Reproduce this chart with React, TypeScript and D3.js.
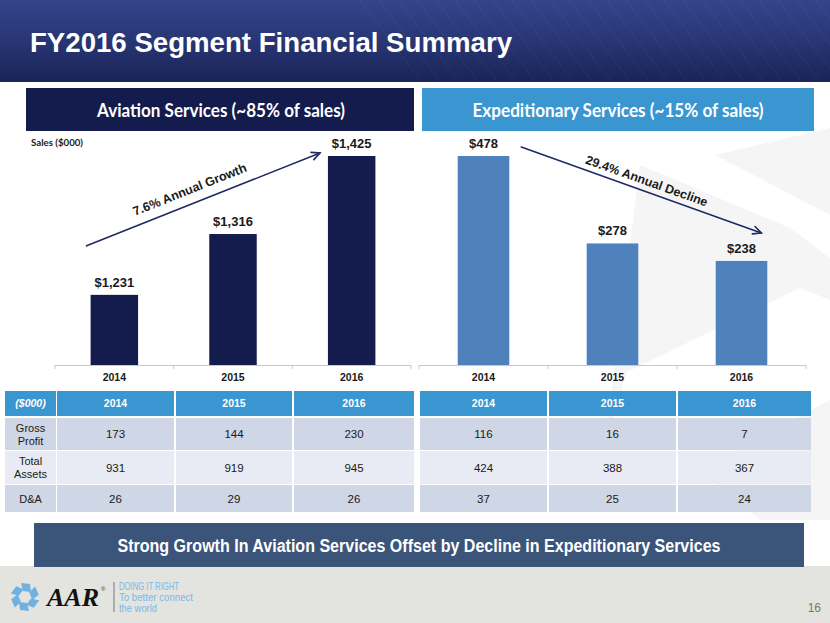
import React from "react";
import * as d3 from "d3";

const years = ["2014", "2015", "2016"];
const aviationSales = [1231, 1316, 1425];
const expeditionarySales = [478, 278, 238];
const aviationAxisMin = 1133;
const metricNames = [["Gross", "Profit"], ["Total", "Assets"], ["D&A"]];
const aviationGrossProfit = [173, 144, 230];
const aviationTotalAssets = [931, 919, 945];
const aviationDA = [26, 29, 26];
const expeditionaryGrossProfit = [116, 16, 7];
const expeditionaryTotalAssets = [424, 388, 367];
const expeditionaryDA = [37, 25, 24];
const aviationGrowthLabel = "7.6% Annual Growth";
const expeditionaryDeclineLabel = "29.4% Annual Decline";

const W = 830;
const H = 623;
const baseY = 365;
const topY = 156;

const NAVY = "#141b4d";
const LIGHTBLUE = "#3a96d1";
const BARBLUE = "#4f81bd";
const ARROW = "#1f2a63";
const NARROW = "'Liberation Sans Narrow', 'Arial Narrow', 'Liberation Sans', Arial, sans-serif";
const ARIAL = "'Liberation Sans', Arial, sans-serif";
const CAL = "Lato, 'Open Sans', sans-serif";

function Arrow({ x1, y1, x2, y2 }: { x1: number; y1: number; x2: number; y2: number }) {
  const a = Math.atan2(y2 - y1, x2 - x1);
  const L = 9;
  const s = 0.45;
  const p1 = [x2 - L * Math.cos(a - s), y2 - L * Math.sin(a - s)];
  const p2 = [x2 - L * Math.cos(a + s), y2 - L * Math.sin(a + s)];
  return (
    <g stroke={ARROW} strokeWidth={1.6} fill="none" strokeLinecap="round">
      <line x1={x1} y1={y1} x2={x2} y2={y2} />
      <polyline points={`${p1[0]},${p1[1]} ${x2},${y2} ${p2[0]},${p2[1]}`} />
    </g>
  );
}

function BarChart({
  values,
  color,
  range,
  yScale,
}: {
  values: number[];
  color: string;
  range: [number, number];
  yScale: d3.ScaleLinear<number, number>;
}) {
  const x = d3.scaleBand<string>().domain(years).range(range).padding(0);
  const bw = x.bandwidth();
  const bounds = [...years.map((y) => x(y) as number), range[1]];
  return (
    <g>
      {values.map((v, i) => {
        const x0 = (x(years[i]) as number) + bw * 0.3;
        return (
          <g key={i}>
            <rect x={x0} y={yScale(v)} width={bw * 0.4} height={baseY - yScale(v)} fill={color} />
            <text
              x={x0 + bw * 0.2}
              y={yScale(v) - 8}
              textAnchor="middle"
              fontFamily={ARIAL}
              fontWeight="bold"
              fontSize={13}
              fill="#1a1a1a"
            >
              {"$" + d3.format(",")(v)}
            </text>
          </g>
        );
      })}
      <line x1={range[0]} x2={range[1]} y1={baseY + 0.5} y2={baseY + 0.5} stroke="#c8c8c8" strokeWidth={1.2} />
      {bounds.map((b, i) => (
        <line key={i} x1={b} x2={b} y1={baseY} y2={baseY + 4} stroke="#c8c8c8" strokeWidth={1} />
      ))}
      {years.map((y) => (
        <text
          key={y}
          x={(x(y) as number) + bw / 2}
          y={381}
          textAnchor="middle"
          fontFamily={ARIAL}
          fontWeight="bold"
          fontSize={10.5}
          fill="#1a1a1a"
        >
          {y}
        </text>
      ))}
    </g>
  );
}

function Table({
  colEdges,
  labelCol,
  rows,
}: {
  colEdges: number[];
  labelCol: [number, number] | null;
  rows: number[][];
}) {
  const rowTops = [391, 418, 451, 485];
  const rowBottoms = [416, 450, 484, 512];
  const rowFills = [LIGHTBLUE, "#cfd6e5", "#e8ebf3", "#cfd6e5"];
  const cols: [number, number][] = [];
  for (let i = 0; i < colEdges.length - 1; i++) cols.push([colEdges[i] + 1, colEdges[i + 1] - 1]);
  return (
    <g>
      {rowTops.map((t, r) => (
        <g key={r}>
          {labelCol && (
            <rect x={labelCol[0]} y={t} width={labelCol[1] - labelCol[0]} height={rowBottoms[r] - t} fill={rowFills[r]} />
          )}
          {cols.map((c, ci) => (
            <rect key={ci} x={c[0]} y={t} width={c[1] - c[0]} height={rowBottoms[r] - t} fill={rowFills[r]} />
          ))}
        </g>
      ))}
      {labelCol && (
        <g fontFamily={ARIAL} fontSize={11} textAnchor="middle">
          <text x={(labelCol[0] + labelCol[1]) / 2} y={407} fill="#fff" fontWeight="bold" fontStyle="italic" fontSize={10.5}>
            ($000)
          </text>
          {metricNames.map((lines, r) => {
            const cy = (rowTops[r + 1] + rowBottoms[r + 1]) / 2;
            return lines.map((ln, li) => (
              <text
                key={r + "-" + li}
                x={(labelCol[0] + labelCol[1]) / 2}
                y={cy + 4 + (li - (lines.length - 1) / 2) * 13}
                fill="#1a1a1a"
              >
                {ln}
              </text>
            ));
          })}
        </g>
      )}
      <g fontFamily={ARIAL} textAnchor="middle">
        {cols.map((c, ci) => (
          <text key={ci} x={(c[0] + c[1]) / 2} y={407} fill="#fff" fontWeight="bold" fontSize={10.5}>
            {years[ci]}
          </text>
        ))}
        {rows.map((row, r) =>
          row.map((v, ci) => (
            <text
              key={r + "-" + ci}
              x={(cols[ci][0] + cols[ci][1]) / 2}
              y={(rowTops[r + 1] + rowBottoms[r + 1]) / 2 + 4}
              fill="#1a1a1a"
              fontSize={11.5}
            >
              {v}
            </text>
          ))
        )}
      </g>
    </g>
  );
}

function Logo() {
  const cx = 25;
  const cy = 597;
  const blades = d3.range(6).map((i) => i * 60);
  return (
    <g>
      {blades.map((ang) => (
        <polygon
          key={ang}
          points="-4,-14 5,-13 6,-5 -2,-6"
          fill="#6fb1e3"
          transform={`translate(${cx},${cy}) rotate(${ang})`}
        />
      ))}
      <text x={47} y={606} fontFamily="'Liberation Serif', 'Times New Roman', serif" fontStyle="italic" fontWeight="bold" fontSize={25} fill="#111" textLength={52} lengthAdjust="spacingAndGlyphs">
        AAR
      </text>
      <text x={101} y={591} fontFamily={ARIAL} fontSize={6} fill="#333">®</text>
      <line x1={114} x2={114} y1={582} y2={612} stroke="#777" strokeWidth={1} />
      <g fontFamily={NARROW} fontSize={11} fill="#7cb8e6">
        <text x={119} y={590} textLength={60} lengthAdjust="spacingAndGlyphs">DOING IT RIGHT</text>
        <text x={119} y={601} textLength={74} lengthAdjust="spacingAndGlyphs">To better connect</text>
        <text x={119} y={612} textLength={38} lengthAdjust="spacingAndGlyphs">the world</text>
      </g>
    </g>
  );
}

export default function App() {
  const yA = d3.scaleLinear().domain([aviationAxisMin, d3.max(aviationSales) as number]).range([baseY, topY]);
  const yE = d3.scaleLinear().domain([0, d3.max(expeditionarySales) as number]).range([baseY, topY]);
  const rangeA: [number, number] = [55, 411];
  const rangeE: [number, number] = [419, 806];
  const xA = d3.scaleBand<string>().domain(years).range(rangeA);
  const xE = d3.scaleBand<string>().domain(years).range(rangeE);

  const a1 = { x: (xA(years[0]) as number) + xA.bandwidth() * 0.3 - 4, y: yA(aviationSales[0]) - 49 };
  const a2 = { x: (xA(years[2]) as number) + xA.bandwidth() * 0.3 - 8, y: yA(aviationSales[2]) - 3 };
  const e1 = { x: (xE(years[0]) as number) + xE.bandwidth() * 0.7 + 12, y: yE(expeditionarySales[0]) - 9 };
  const e2 = { x: (xE(years[2]) as number) + xE.bandwidth() * 0.7 - 6, y: yE(expeditionarySales[2]) - 28 };
  const angA = (Math.atan2(a2.y - a1.y, a2.x - a1.x) * 180) / Math.PI;
  const angE = (Math.atan2(e2.y - e1.y, e2.x - e1.x) * 180) / Math.PI;

  const aviationRows = [aviationGrossProfit, aviationTotalAssets, aviationDA];
  const expRows = [expeditionaryGrossProfit, expeditionaryTotalAssets, expeditionaryDA];

  const streaks = d3.range(26).map((i) => 360 + i * 19);

  return (
    <svg width={W} height={H} style={{ position: "absolute", left: 0, top: 0 }} xmlns="http://www.w3.org/2000/svg">
      <defs>
        <linearGradient id="hdr" x1="0" y1="0" x2="0" y2="1">
          <stop offset="0" stopColor="#34448a" />
          <stop offset="0.5" stopColor="#283674" />
          <stop offset="1" stopColor="#1b2358" />
        </linearGradient>
      </defs>
      <rect x={0} y={0} width={W} height={H} fill="#ffffff" />
      <g fill="#f5f5f5">
        <polygon points="715,155 830,128 830,215" />
        <polygon points="640,165 790,228 830,258 830,300 800,288 627,372 605,445" />
        <polygon points="700,470 830,400 830,520 760,520" />
      </g>
      <rect x={0} y={0} width={W} height={82} fill="url(#hdr)" />
      <g stroke="#ffffff" strokeOpacity={0.05} strokeWidth={1}>
        {streaks.map((s, i) => (
          <line key={i} x1={s} y1={0} x2={s + 60} y2={80} />
        ))}
      </g>
      <text x={30} y={52} fontFamily={NARROW} fontWeight="bold" fontSize={28} fill="#fff" textLength={482} lengthAdjust="spacingAndGlyphs">
        FY2016 Segment Financial Summary
      </text>

      <rect x={26} y={88} width={388} height={43} fill={NAVY} />
      <text x={221} y={117} textAnchor="middle" fontFamily={CAL} fontWeight="bold" fontSize={18} fill="#fff" textLength={248} lengthAdjust="spacingAndGlyphs">
        Aviation Services (~85% of sales)
      </text>
      <rect x={422} y={88} width={392} height={43} fill={LIGHTBLUE} />
      <text x={618} y={117} textAnchor="middle" fontFamily={CAL} fontWeight="bold" fontSize={18} fill="#fff" textLength={291} lengthAdjust="spacingAndGlyphs">
        Expeditionary Services (~15% of sales)
      </text>

      <text x={31} y={146} fontFamily={CAL} fontWeight="bold" fontSize={10} fill="#1a1a1a" textLength={52} lengthAdjust="spacingAndGlyphs">
        Sales ($000)
      </text>

      <BarChart values={aviationSales} color={NAVY} range={rangeA} yScale={yA} />
      <BarChart values={expeditionarySales} color={BARBLUE} range={rangeE} yScale={yE} />

      <Arrow x1={a1.x} y1={a1.y} x2={a2.x} y2={a2.y} />
      <Arrow x1={e1.x} y1={e1.y} x2={e2.x} y2={e2.y} />
      <text
        transform={`translate(${(a1.x + a2.x) / 2 - 12},${(a1.y + a2.y) / 2 - 6}) rotate(${angA})`}
        textAnchor="middle"
        fontFamily={ARIAL}
        fontWeight="bold"
        fontSize={12.5}
        fill="#1a1a1a"
      >
        {aviationGrowthLabel}
      </text>
      <text
        transform={`translate(${(e1.x + e2.x) / 2 + 4},${(e1.y + e2.y) / 2 - 5}) rotate(${angE})`}
        textAnchor="middle"
        fontFamily={ARIAL}
        fontWeight="bold"
        fontSize={12.5}
        fill="#1a1a1a"
      >
        {expeditionaryDeclineLabel}
      </text>

      <Table colEdges={[56, 175, 293, 415]} labelCol={[5, 56]} rows={aviationRows} />
      <Table colEdges={[419, 548, 677, 812]} labelCol={null} rows={expRows} />

      <rect x={0} y={566} width={W} height={H - 566} fill="#e3e3df" />
      <rect x={34} y={523} width={770} height={44} fill="#3b5479" />
      <text x={419} y={552} textAnchor="middle" fontFamily={NARROW} fontWeight="bold" fontSize={18} fill="#fff" textLength={603} lengthAdjust="spacingAndGlyphs">
        Strong Growth In Aviation Services Offset by Decline in Expeditionary Services
      </text>
      <Logo />
      <text x={821} y={612} textAnchor="end" fontFamily={NARROW} fontSize={12} fill="#777">
        16
      </text>
    </svg>
  );
}
